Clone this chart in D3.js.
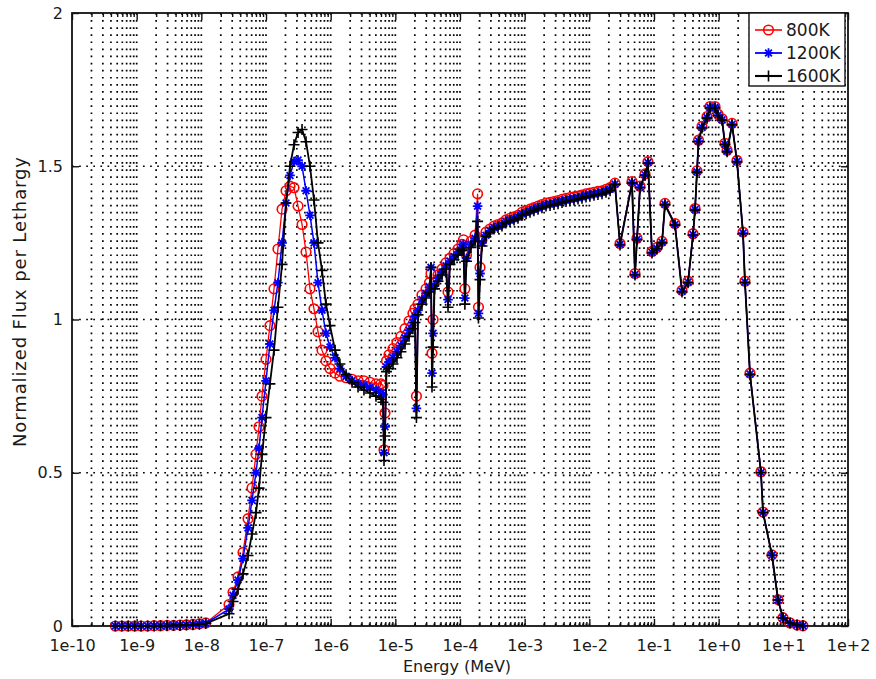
<!DOCTYPE html>
<html><head><meta charset="utf-8">
<script src="https://cdn.jsdelivr.net/npm/d3@7"></script>
<style>body{margin:0;background:#fff;} text{font-family:"DejaVu Sans",sans-serif;fill:#1a1a1a;}</style>
</head><body><svg id="c" width="876" height="679"></svg>
<script>
// Energy grid (MeV)
const energyMeV = [
  4.68e-10,5.89e-10,7.41e-10,9.33e-10,1.17e-9,1.48e-9,1.86e-9,2.34e-9,2.95e-9,3.72e-9,4.68e-9,5.89e-9,7.41e-9,9.33e-9,1.17e-8,
  2.68e-8,3.09e-8,3.69e-8,4.41e-8,5.27e-8,6.07e-8,7.00e-8,7.80e-8,8.67e-8,1.00e-7,1.15e-7,1.33e-7,1.53e-7,1.77e-7,2.04e-7,2.35e-7,2.71e-7,3.13e-7,3.61e-7,4.16e-7,4.79e-7,5.52e-7,6.37e-7,7.34e-7,8.47e-7,9.77e-7,1.17e-6,1.39e-6,1.73e-6,2.14e-6,2.65e-6,3.27e-6,4.06e-6,5.02e-6,
  6.00e-6,6.44e-6,6.68e-6,6.92e-6,7.29e-6,7.98e-6,9.20e-6,1.06e-5,1.22e-5,1.41e-5,1.63e-5,1.87e-5,2.01e-5,2.12e-5,2.24e-5,2.58e-5,2.98e-5,3.37e-5,3.56e-5,3.69e-5,3.83e-5,4.04e-5,4.57e-5,5.27e-5,6.08e-5,6.53e-5,7.00e-5,8.07e-5,9.31e-5,1.07e-4,1.13e-4,1.19e-4,1.26e-4,1.48e-4,1.71e-4,1.87e-4,1.93e-4,2.04e-4,2.19e-4,2.52e-4,
  2.91e-4,3.36e-4,3.87e-4,4.46e-4,5.14e-4,5.93e-4,6.84e-4,7.89e-4,9.10e-4,1.05e-3,1.21e-3,1.39e-3,1.61e-3,1.85e-3,2.14e-3,2.47e-3,2.84e-3,3.28e-3,3.78e-3,4.36e-3,5.02e-3,5.79e-3,6.68e-3,7.70e-3,8.88e-3,1.02e-2,1.18e-2,1.36e-2,1.57e-2,1.81e-2,2.09e-2,
  2.49e-2,2.98e-2,4.57e-2,5.08e-2,5.46e-2,6.08e-2,7.26e-2,8.07e-2,9.31e-2,0.111,0.133,0.148,0.211,0.271,0.336,0.401,0.431,0.462,0.488,0.552,0.661,0.735,0.877,0.977,1.13,1.25,1.35,1.61,1.92,2.38,2.55,3.05,4.51,4.85,6.68,8.28,9.89,12.7,16.3,20.1
];
const flux800K = [
  0,0,0,0,0,0,0.001,0.001,0.002,0.002,0.003,0.004,0.005,0.007,0.01,
  0.07,0.11,0.16,0.24,0.35,0.45,0.56,0.65,0.75,0.87,0.98,1.10,1.23,1.36,1.42,1.435,1.43,1.37,1.31,1.22,1.10,1.035,0.96,0.90,0.865,0.84,0.825,0.815,0.81,0.805,0.80,0.80,0.795,0.79,
  0.79,0.785,0.575,0.695,0.865,0.885,0.905,0.925,0.945,0.97,0.995,1.02,1.035,0.75,1.05,1.08,1.10,1.12,1.15,0.89,1.00,1.12,1.145,1.165,1.185,1.09,1.20,1.215,1.23,1.245,1.26,1.10,1.21,1.255,1.275,1.41,1.04,1.17,1.26,1.285,
  1.295,1.305,1.31,1.315,1.325,1.33,1.335,1.34,1.35,1.355,1.36,1.365,1.37,1.375,1.38,1.382,1.385,1.388,1.392,1.395,1.398,1.40,1.403,1.406,1.41,1.412,1.415,1.418,1.42,1.425,1.43,
  1.445,1.248,1.45,1.15,1.265,1.435,1.475,1.515,1.222,1.235,1.255,1.379,1.313,1.095,1.125,1.28,1.362,1.485,1.585,1.63,1.662,1.695,1.695,1.67,1.655,1.575,1.552,1.64,1.519,1.285,1.125,0.825,0.503,0.372,0.232,0.086,0.027,0.01,0.003,0.001
];
const flux1200K = [
  0,0,0,0,0,0,0.001,0.001,0.001,0.002,0.003,0.003,0.005,0.006,0.009,
  0.055,0.10,0.15,0.22,0.32,0.41,0.50,0.58,0.68,0.80,0.92,1.03,1.12,1.25,1.38,1.47,1.515,1.52,1.50,1.42,1.34,1.25,1.12,1.03,0.955,0.91,0.875,0.84,0.815,0.80,0.79,0.785,0.778,0.77,
  0.76,0.755,0.565,0.65,0.845,0.86,0.875,0.895,0.915,0.94,0.965,0.99,1.01,0.71,1.03,1.065,1.085,1.105,1.17,0.825,0.955,1.11,1.135,1.155,1.175,1.065,1.19,1.205,1.22,1.235,1.245,1.07,1.20,1.245,1.265,1.37,1.02,1.15,1.25,1.275,
  1.29,1.30,1.305,1.31,1.32,1.325,1.33,1.335,1.345,1.35,1.355,1.36,1.365,1.37,1.375,1.377,1.38,1.383,1.387,1.39,1.393,1.395,1.398,1.401,1.405,1.407,1.41,1.413,1.415,1.42,1.425,
  1.442,1.245,1.447,1.147,1.262,1.432,1.472,1.512,1.219,1.232,1.252,1.376,1.31,1.092,1.122,1.277,1.359,1.482,1.582,1.627,1.659,1.692,1.692,1.667,1.652,1.572,1.549,1.637,1.516,1.282,1.122,0.822,0.501,0.371,0.231,0.085,0.026,0.01,0.003,0.001
];
const flux1600K = [
  0,0,0,0,0,0,0,0.001,0.001,0.002,0.002,0.003,0.004,0.006,0.008,
  0.04,0.08,0.12,0.17,0.23,0.30,0.37,0.45,0.56,0.68,0.79,0.90,1.04,1.18,1.38,1.50,1.57,1.61,1.62,1.58,1.50,1.39,1.25,1.16,1.05,0.98,0.90,0.855,0.82,0.795,0.78,0.77,0.76,0.75,
  0.74,0.73,0.54,0.62,0.83,0.84,0.855,0.875,0.895,0.92,0.945,0.97,0.99,0.68,1.015,1.05,1.07,1.09,1.17,0.78,0.91,1.10,1.125,1.145,1.165,1.04,1.18,1.195,1.21,1.225,1.23,1.05,1.19,1.235,1.255,1.32,1.005,1.13,1.24,1.27,
  1.285,1.295,1.30,1.305,1.315,1.32,1.325,1.33,1.34,1.345,1.35,1.355,1.36,1.365,1.37,1.372,1.375,1.378,1.382,1.385,1.388,1.39,1.393,1.396,1.40,1.402,1.405,1.408,1.41,1.415,1.42,
  1.44,1.243,1.445,1.145,1.26,1.43,1.47,1.51,1.217,1.23,1.25,1.374,1.308,1.09,1.12,1.275,1.357,1.48,1.58,1.625,1.657,1.69,1.69,1.665,1.65,1.57,1.547,1.635,1.514,1.28,1.12,0.82,0.50,0.37,0.23,0.085,0.026,0.01,0.003,0.001
];
const seriesNames = ["800K","1200K","1600K"];
const xTickLabels = ["1e-10","1e-9","1e-8","1e-7","1e-6","1e-5","1e-4","1e-3","1e-2","1e-1","1e+0","1e+1","1e+2"];
const yTickLabels = ["0","0.5","1","1.5","2"];
const xAxisTitle = "Energy (MeV)";
const yAxisTitle = "Normalized Flux per Lethargy";

const W = 876, H = 679;
const m = {left:72, top:13, right:28, bottom:53};
const pw = W - m.left - m.right, ph = H - m.top - m.bottom;
const svg = d3.select("#c");
const g = svg.append("g").attr("transform",`translate(${m.left},${m.top})`);

const xMajor = xTickLabels.map(Number);
const yMajor = yTickLabels.map(Number);
const x = d3.scaleLog().domain([xMajor[0], xMajor[xMajor.length-1]]).range([0,pw]);
const y = d3.scaleLinear().domain([yMajor[0], yMajor[yMajor.length-1]]).range([ph,0]);

const xMinor = [];
for (let i=0;i<xMajor.length-1;i++) for (let k=2;k<=9;k++) xMinor.push(k*xMajor[i]);

// grid
const grid = g.append("g").attr("stroke","#000").attr("stroke-width",1.7).attr("stroke-dasharray","1.7,5.4");
grid.selectAll(".gv").data(xMinor.concat(xMajor.slice(1,-1))).join("line")
  .attr("x1",d=>x(d)).attr("x2",d=>x(d)).attr("y1",0).attr("y2",ph);
grid.selectAll(".gh").data(yMajor.slice(1,-1)).join("line")
  .attr("x1",0).attr("x2",pw).attr("y1",d=>y(d)).attr("y2",d=>y(d));

// axes
const fmtX = d => xTickLabels[xMajor.indexOf(d)];
const fmtY = d => yTickLabels[yMajor.indexOf(d)];
const axB = g.append("g").attr("transform",`translate(0,${ph})`)
  .call(d3.axisBottom(x).tickValues(xMajor).tickFormat(fmtX).tickSizeInner(-7).tickSizeOuter(0).tickPadding(14));
const axBm = g.append("g").attr("transform",`translate(0,${ph})`)
  .call(d3.axisBottom(x).tickValues(xMinor).tickFormat("").tickSizeInner(-4).tickSizeOuter(0));
const axT = g.append("g").call(d3.axisTop(x).tickValues(xMajor).tickFormat("").tickSizeInner(-7).tickSizeOuter(0));
const axTm = g.append("g").call(d3.axisTop(x).tickValues(xMinor).tickFormat("").tickSizeInner(-4).tickSizeOuter(0));
const axL = g.append("g").call(d3.axisLeft(y).tickValues(yMajor).tickFormat(fmtY).tickSizeInner(-7).tickSizeOuter(0).tickPadding(9));
const axR = g.append("g").attr("transform",`translate(${pw},0)`)
  .call(d3.axisRight(y).tickValues(yMajor).tickFormat("").tickSizeInner(-7).tickSizeOuter(0));
[axB,axBm,axT,axTm,axL,axR].forEach(a=>{
  a.select(".domain").remove();
  a.selectAll(".tick line").attr("stroke","#111").attr("stroke-width",1.4);
  a.selectAll("text").attr("font-size",16).attr("fill","#1a1a1a").attr("font-family","DejaVu Sans");
});
g.append("rect").attr("x",0).attr("y",0).attr("width",pw).attr("height",ph)
  .attr("fill","none").attr("stroke","#111").attr("stroke-width",1.8);

// series
const styles = [
  {color:"#ff0000", lw:1.3, marker:"circle"},
  {color:"#0000ff", lw:1.5, marker:"star"},
  {color:"#000000", lw:1.8, marker:"plus"}
];
const starPath = "M-4.8,0H4.8M0,-4.8V4.8M-3.4,-3.4L3.4,3.4M-3.4,3.4L3.4,-3.4";
const plusPath = "M-5.5,0H5.5M0,-5.5V5.5";
function drawMarker(sel, st){
  if (st.marker==="circle") sel.append("circle").attr("r",4.8).attr("fill","none").attr("stroke",st.color).attr("stroke-width",1.6);
  else sel.append("path").attr("d", st.marker==="star"?starPath:plusPath).attr("fill","none").attr("stroke",st.color).attr("stroke-width",st.marker==="star"?1.8:1.6);
}
const allFlux = [flux800K, flux1200K, flux1600K];
const line = d3.line().x(d=>x(d[0])).y(d=>y(d[1]));
allFlux.forEach((vals,i)=>{
  const st = styles[i];
  const pts = energyMeV.map((e,j)=>[e, vals[j]]);
  g.append("path").datum(pts).attr("d",line).attr("fill","none").attr("stroke",st.color).attr("stroke-width",st.lw);
  const mk = g.append("g").selectAll("g").data(pts).join("g")
    .attr("transform",d=>`translate(${x(d[0])},${y(d[1])})`);
  drawMarker(mk, st);
});

// legend
const lg = g.append("g").attr("transform",`translate(${677},0)`);
lg.append("rect").attr("x",0).attr("y",0).attr("width",96).attr("height",73)
  .attr("fill","#fff").attr("stroke","#111").attr("stroke-width",1.4);
seriesNames.forEach((name,i)=>{
  const st = styles[i];
  const yy = 17 + i*23;
  lg.append("line").attr("x1",6).attr("x2",33).attr("y1",yy).attr("y2",yy).attr("stroke",st.color).attr("stroke-width",st.lw+0.3);
  drawMarker(lg.append("g").attr("transform",`translate(19.5,${yy})`), st);
  lg.append("text").attr("x",37).attr("y",yy+6).attr("font-size",17).text(name);
});

// axis titles
svg.append("text").attr("x", m.left+pw/2-3).attr("y", 672).attr("text-anchor","middle").attr("font-size",16).text(xAxisTitle);
svg.append("text").attr("transform",`translate(26,302) rotate(-90)`).attr("text-anchor","middle").attr("font-size",18)
  .attr("textLength",290).attr("lengthAdjust","spacing").text(yAxisTitle);
</script>
</body></html>
